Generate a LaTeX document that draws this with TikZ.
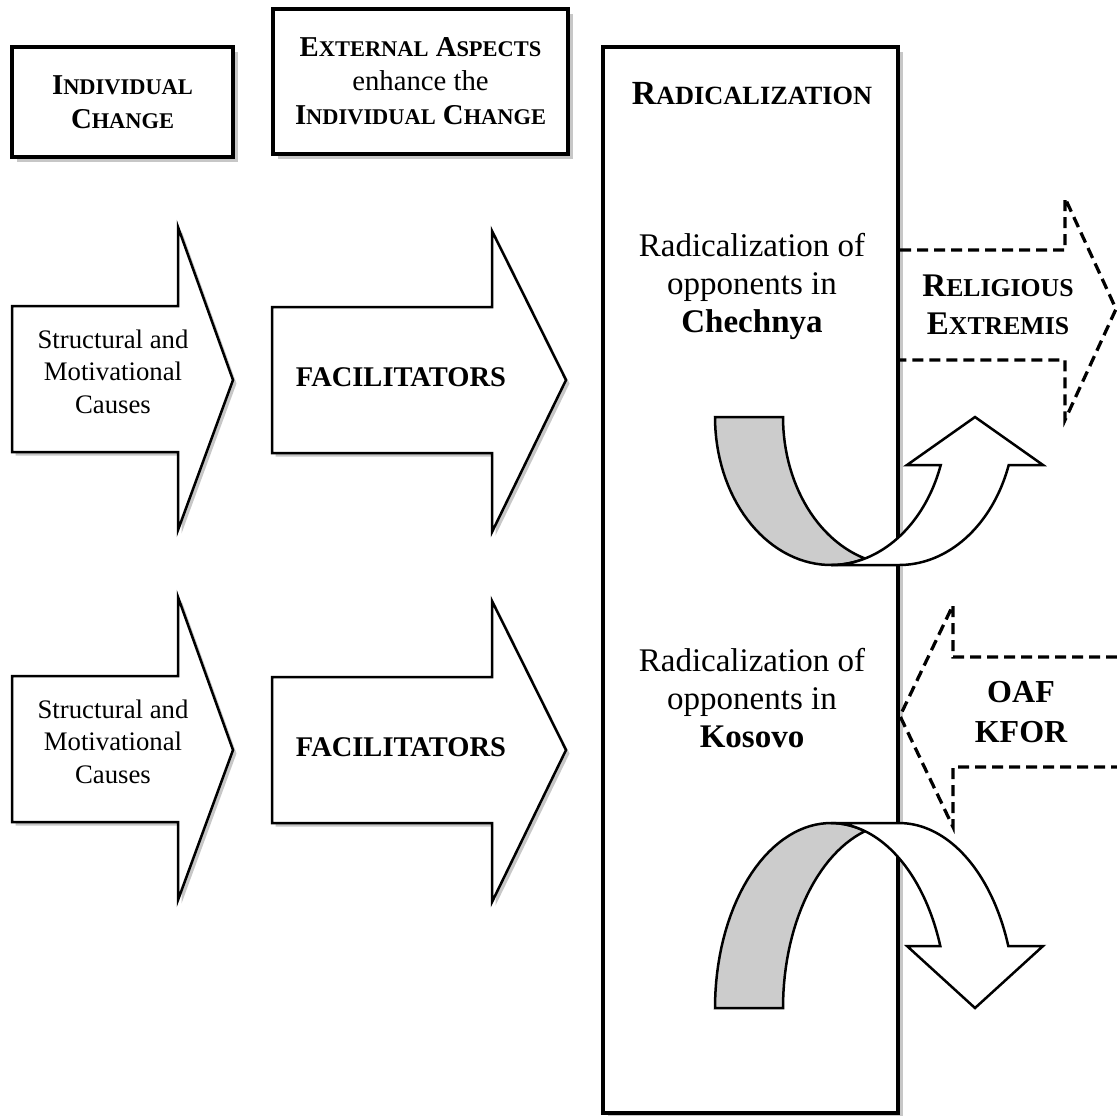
\documentclass[tikz,border=0pt]{standalone}
\usepackage{fontspec}
\setmainfont{Liberation Serif}
\usetikzlibrary{shadows}

\makeatletter
% small capitals by hand (Liberation Serif has none)
\newcommand{\smc}[1]{{\fontsize{\the\dimexpr0.78\dimexpr\f@size pt\relax\relax}{\f@baselineskip}\selectfont #1}}
\makeatother

\begin{document}
\begin{tikzpicture}[x=0.4pt, y=-0.4pt,
    softshadow/.style={drop shadow={shadow xshift=#1, shadow yshift=-#1, fill=black!22, opacity=1}},
    softshadow/.default=1.4pt,
    headbox/.style={draw, line width=1.7pt, fill=white, softshadow=2pt, align=center, inner sep=0pt},
    blockarrow/.style={draw, line width=1pt, fill=white, softshadow},
    backband/.style={draw, line width=1pt, fill=black!20},
    frontband/.style={draw, line width=1pt, fill=white},
    dasharrow/.style={draw, line width=1.3pt, dash pattern=on 4.4pt off 2.4pt},
    plaintext/.style={align=center, inner sep=0pt}]

    \useasboundingbox (0,0) rectangle (1117,1115);

    % Column heads
    \node[headbox, minimum width=88.4pt, minimum height=44pt,
          font=\fontsize{11.5}{13.6}\selectfont\bfseries] (indiv) at (122.5,102)
          {I\smc{NDIVIDUAL}\\C\smc{HANGE}};
    \node[headbox, minimum width=118pt, minimum height=58pt,
          font=\fontsize{11.5}{13.6}\selectfont\bfseries] (extern) at (420.5,81.5)
          {E\smc{XTERNAL} A\smc{SPECTS}\\{\mdseries enhance the}\\I\smc{NDIVIDUAL} C\smc{HANGE}};
    \node[headbox, minimum width=118pt, minimum height=426.4pt] (radbox) at (750.5,580) {};
    \node[plaintext, font=\fontsize{13.5}{16}\selectfont\bfseries] (radtitle) at (752,94)
          {R\smc{ADICALIZATION}};

    % Block arrows, one row per case
    \foreach \dy in {0,370}{
        \path[blockarrow] (12,306+\dy) -- (178,306+\dy) -- (178,227+\dy) -- (233,380+\dy)
            -- (178,530+\dy) -- (178,452+\dy) -- (12,452+\dy) -- cycle;
        \path[blockarrow] (272,307+\dy) -- (492,307+\dy) -- (492,231+\dy) -- (566,380+\dy)
            -- (492,532+\dy) -- (492,453+\dy) -- (272,453+\dy) -- cycle;
        \node[plaintext, font=\fontsize{10.7}{13}\selectfont] (causes\dy) at (113,371.5+\dy)
            {Structural and\\Motivational\\Causes};
        \node[plaintext, font=\fontsize{11.4}{13.6}\selectfont\bfseries] (facil\dy) at (401,377+\dy)
            {FACILITATORS};
    }

    % Cases inside the radicalization column
    \node[plaintext, font=\fontsize{13.2}{15.2}\selectfont] (chechnya) at (752,286.3)
        {Radicalization of\\opponents in\\\textbf{Chechnya}};
    \node[plaintext, font=\fontsize{13.2}{15.2}\selectfont] (kosovo) at (752,697.8)
        {Radicalization of\\opponents in\\\textbf{Kosovo}};

    % Outgoing and incoming influences (dashed)
    \draw[dasharrow] (900,250) -- (1065,250) -- (1065,198) -- (1116,309)
        -- (1065,420) -- (1065,360) -- (900,360);
    \node[plaintext, font=\fontsize{13.2}{15.2}\selectfont\bfseries] (religious) at (998,305)
        {R\smc{ELIGIOUS}\\E\smc{XTREMIS}};
    \draw[dasharrow] (1117,657) -- (953,657) -- (953,605) -- (900,716)
        -- (953,827) -- (953,767) -- (1117,767);
    \node[plaintext, font=\fontsize{12.8}{16}\selectfont\bfseries] (oaf) at (1021,712.5)
        {OAF\\KFOR};

    % U-turn arrows (back band grey, front band white)
    \path[backband] plot[domain=180:72.96, samples=40, variable=\t] ({831+116*cos(\t)},{417+148*sin(\t)})
        -- plot[domain=107.04:180, samples=30, variable=\t] ({899+116*cos(\t)},{417+148*sin(\t)}) -- cycle;
    \path[frontband] plot[domain=90:18.92, samples=40, variable=\t] ({899+116*cos(\t)},{417+148*sin(\t)})
        -- (1043,465) -- (975,417) -- (907,465)
        -- plot[domain=18.92:90, samples=40, variable=\t] ({831+116*cos(\t)},{417+148*sin(\t)}) -- cycle;

    \path[backband] plot[domain=180:72.96, samples=40, variable=\t] ({831+116*cos(\t)},{1008-185*sin(\t)})
        -- plot[domain=107.04:180, samples=30, variable=\t] ({899+116*cos(\t)},{1008-185*sin(\t)}) -- cycle;
    \path[frontband] plot[domain=90:19.57, samples=40, variable=\t] ({899+116*cos(\t)},{1008-185*sin(\t)})
        -- (1043,946) -- (975,1008) -- (907,946)
        -- plot[domain=19.57:90, samples=40, variable=\t] ({831+116*cos(\t)},{1008-185*sin(\t)}) -- cycle;
\end{tikzpicture}
\end{document}
